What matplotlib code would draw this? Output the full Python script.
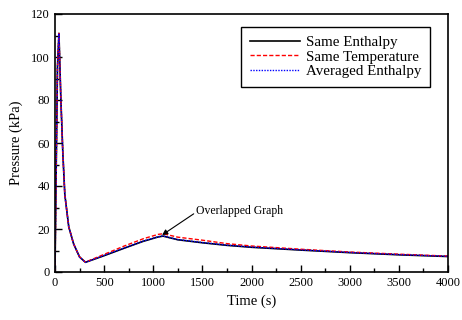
import numpy as np
import matplotlib.pyplot as plt
from matplotlib.ticker import MultipleLocator

# values
time_s = [0, 10, 25, 40, 60, 80, 100, 140, 190, 250, 310, 500, 700, 900, 1050, 1100,
          1250, 1500, 1750, 2000, 2500, 3000, 3500, 4000]
same_enthalpy = [0, 40, 95, 111, 80, 55, 36, 21, 13, 7, 4.5, 7.6, 11.0, 14.3, 16.3, 16.7,
                 15.0, 13.6, 12.4, 11.5, 10.2, 9.0, 8.0, 7.2]
same_temperature = [0, 40, 95, 111, 80, 55, 36, 21, 13, 7, 4.6, 8.2, 12.0, 15.5, 17.5, 17.8,
                    16.2, 14.8, 13.2, 12.1, 10.6, 9.3, 8.3, 7.4]
averaged_enthalpy = [0, 40, 95, 111, 80, 55, 36, 21, 13, 7, 4.5, 7.7, 11.1, 14.4, 16.4, 16.8,
                     15.1, 13.7, 12.5, 11.6, 10.3, 9.1, 8.1, 7.3]

plt.rcParams['font.family'] = ['Liberation Serif', 'DejaVu Serif']

fig = plt.figure(figsize=(4.62, 3.2), dpi=100)
ax = fig.add_axes([55 / 462, 1 - 272 / 320, 393 / 462, 258 / 320])

ax.plot(time_s, same_enthalpy, color='black', lw=1.2, label='Same Enthalpy')
ax.plot(time_s, same_temperature, color='red', lw=1.0, ls=(0, (3, 1.5)), label='Same Temperature')
ax.plot(time_s, averaged_enthalpy, color='blue', lw=1.0, ls=(0, (1, 1)), label='Averaged Enthalpy')

ax.set_xlim(0, 4000)
ax.set_ylim(0, 120)
ax.xaxis.set_major_locator(MultipleLocator(500))
ax.xaxis.set_minor_locator(MultipleLocator(250))
ax.yaxis.set_major_locator(MultipleLocator(20))
ax.yaxis.set_minor_locator(MultipleLocator(10))
ax.tick_params(which='both', direction='in', top=False, right=False, labelsize=9, width=1)
ax.tick_params(which='major', length=5)
ax.tick_params(which='minor', length=3)
for s in ax.spines.values():
    s.set_linewidth(1.2)

ax.set_xlabel('Time (s)', fontsize=10.5, labelpad=4)
ax.set_ylabel('Pressure (kPa)', fontsize=10.5, labelpad=6)

leg = ax.legend(loc='upper right', bbox_to_anchor=(0.954, 0.95), fontsize=10.8,
                fancybox=False, edgecolor='black', framealpha=1, handlelength=3.3,
                borderpad=0.6, labelspacing=0.05, handletextpad=0.4, borderaxespad=0)
leg.get_frame().set_linewidth(1.0)

ax.annotate('Overlapped Graph', xy=(1090, 17.2), xytext=(1440, 28.5),
            fontsize=8.5, va='center', ha='left',
            arrowprops=dict(arrowstyle='-|>', color='black', lw=0.8,
                            shrinkA=0, shrinkB=0, mutation_scale=8,
                            relpos=(-0.02, 0.3)))

fig.savefig('out.png', dpi=100)
